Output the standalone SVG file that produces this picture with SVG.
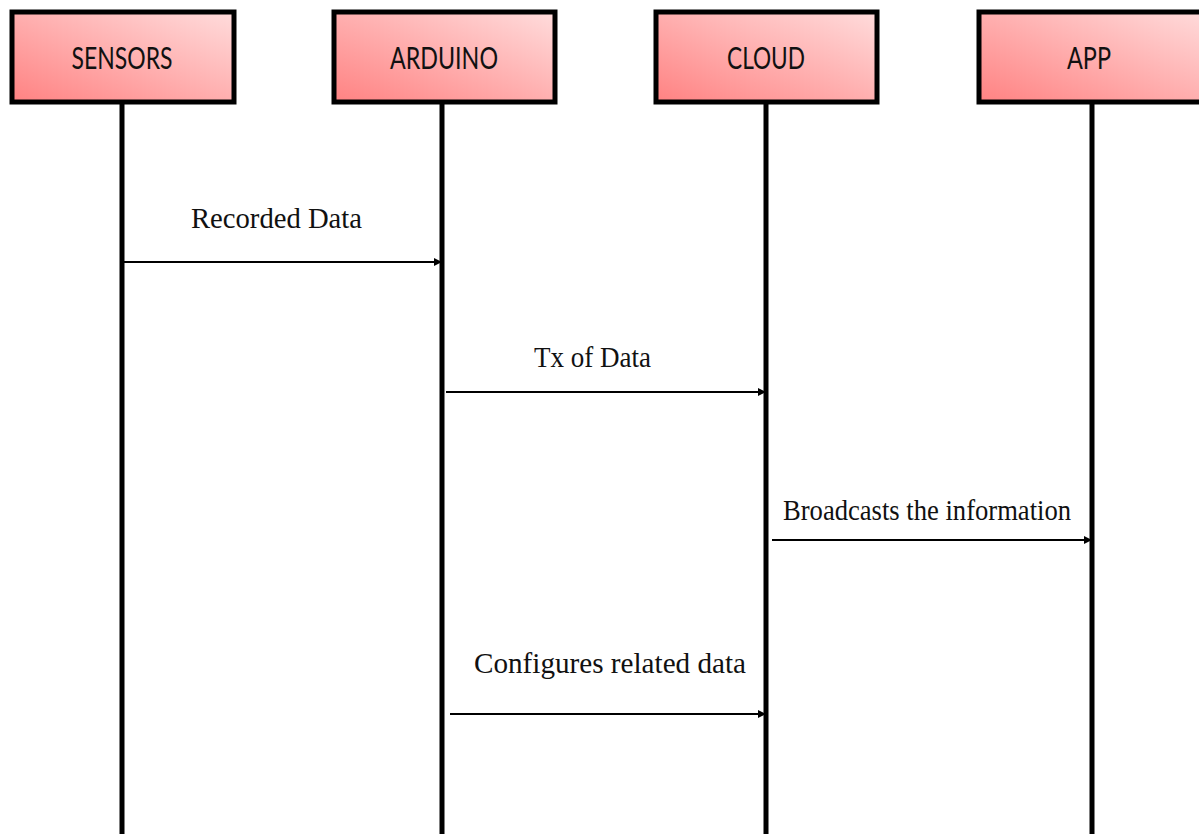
<svg xmlns="http://www.w3.org/2000/svg" width="1199" height="834" viewBox="0 0 1199 834">
<defs>
<linearGradient id="g" x1="0" y1="1" x2="1" y2="0">
<stop offset="0" stop-color="#ff8282"/>
<stop offset="1" stop-color="#ffdcdc"/>
</linearGradient>
<marker id="ah" markerWidth="8" markerHeight="8" refX="7" refY="4" orient="auto" markerUnits="userSpaceOnUse">
<path d="M0,0 L8,4 L0,8 Z" fill="#000"/>
</marker>
</defs>
<style>
.box{fill:url(#g);stroke:#000;stroke-width:5}
.life{stroke:#000;stroke-width:5}
.hd{font-family:Lato,"Open Sans",sans-serif;font-size:30px;fill:#111;text-anchor:middle}
.msg{stroke:#000;stroke-width:2;fill:none;marker-end:url(#ah)}
.lbl{font-family:"Liberation Serif",serif;font-size:30px;fill:#111}
</style>
<rect width="1199" height="834" fill="#fff"/>
<g id="sensors">
<line class="life" x1="122" y1="102" x2="122" y2="834"/>
<rect class="box" x="12" y="12" width="222" height="90"/>
<text class="hd" x="122" y="69" textLength="101" lengthAdjust="spacingAndGlyphs">SENSORS</text>
</g>
<g id="arduino">
<line class="life" x1="442" y1="102" x2="442" y2="834"/>
<rect class="box" x="334" y="12" width="221" height="90"/>
<text class="hd" x="444" y="69" textLength="108" lengthAdjust="spacingAndGlyphs">ARDUINO</text>
</g>
<g id="cloud">
<line class="life" x1="766" y1="102" x2="766" y2="834"/>
<rect class="box" x="656" y="12" width="221" height="90"/>
<text class="hd" x="766" y="69" textLength="78" lengthAdjust="spacingAndGlyphs">CLOUD</text>
</g>
<g id="app">
<line class="life" x1="1092" y1="102" x2="1092" y2="834"/>
<rect class="box" x="979" y="12" width="230" height="90"/>
<text class="hd" x="1089" y="69" textLength="44" lengthAdjust="spacingAndGlyphs">APP</text>
</g>
<g id="connectors">
<line class="msg" x1="124" y1="262" x2="441" y2="262"/>
<line class="msg" x1="446" y1="392" x2="765" y2="392"/>
<line class="msg" x1="772" y1="540" x2="1091" y2="540"/>
<line class="msg" x1="450" y1="714" x2="765" y2="714"/>
</g>
<g id="labels">
<text class="lbl" x="191" y="228" textLength="171" lengthAdjust="spacingAndGlyphs">Recorded Data</text>
<text class="lbl" x="534" y="367" textLength="117" lengthAdjust="spacingAndGlyphs">Tx of Data</text>
<text class="lbl" x="783" y="520" textLength="288" lengthAdjust="spacingAndGlyphs">Broadcasts the information</text>
<text class="lbl" x="474" y="673" textLength="272" lengthAdjust="spacingAndGlyphs">Configures related data</text>
</g>
</svg>
